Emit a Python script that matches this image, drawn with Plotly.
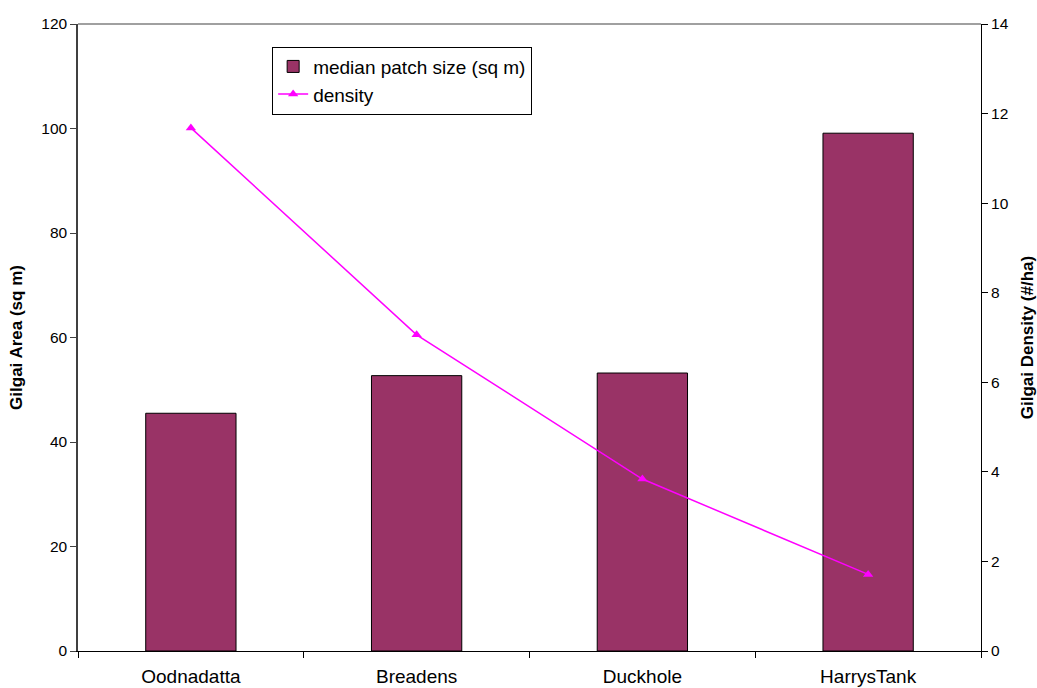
import plotly.graph_objects as go

sites = ["Oodnadatta", "Breadens", "Duckhole", "HarrysTank"]
median_patch_size = [45.5, 52.7, 53.2, 99.1]
density = [11.68, 7.06, 3.84, 1.71]

fig = go.Figure()

fig.add_trace(go.Bar(
    x=sites, y=median_patch_size, name="median patch size (sq m)",
    marker=dict(color="#993366", line=dict(color="#000000", width=1)),
    width=0.4, yaxis="y",
))

fig.add_trace(go.Scatter(
    x=sites, y=density, name="density", mode="lines+markers",
    line=dict(color="#FF00FF", width=1.5),
    marker=dict(symbol="triangle-up", size=9, color="#FF00FF"),
    yaxis="y2",
))

base_font = dict(family="Arial, Liberation Sans, sans-serif", size=15.5, color="#000000")

fig.update_layout(
    width=1037, height=688,
    margin=dict(l=78, r=56, t=24, b=37),
    paper_bgcolor="white", plot_bgcolor="white",
    font=base_font,
    showlegend=True,
    legend=dict(
        x=0.215, y=0.964, xanchor="left", yanchor="top",
        bordercolor="#000000", borderwidth=1, bgcolor="white",
        font=dict(family="Arial, Liberation Sans, sans-serif", size=19, color="#000000"),
        tracegroupgap=0, itemwidth=30,
    ),
    xaxis=dict(
        showline=True, linecolor="#000000", linewidth=1,
        ticks="outside", ticklen=6, tickcolor="#000000",
        tickson="boundaries", showgrid=False, zeroline=False,
        tickfont=dict(size=19), automargin=False,
        ticklabelstandoff=8,
    ),
    yaxis=dict(
        range=[0, 120], dtick=20, showgrid=False, zeroline=False,
        showline=True, linecolor="#404040", linewidth=1.5,
        ticks="outside", ticklen=6, tickcolor="#404040",
        title=dict(text="<b>Gilgai Area (sq m)</b>", standoff=14,
                   font=dict(size=17)),
        tickfont=dict(size=15.5), automargin=False,
    ),
    yaxis2=dict(
        range=[0, 14], dtick=2, overlaying="y", side="right",
        showgrid=False, zeroline=False,
        showline=True, linecolor="#000000", linewidth=1,
        ticks="outside", ticklen=6, tickcolor="#000000",
        title=dict(text="<b>Gilgai Density (#/ha)</b>", standoff=14,
                   font=dict(size=17)),
        tickfont=dict(size=15.5), automargin=False,
    ),
    shapes=[dict(type="line", xref="paper", yref="paper",
                 x0=0, x1=1, y0=1, y1=1,
                 line=dict(color="#808080", width=1.5))],
)

fig.write_html("out.html")
